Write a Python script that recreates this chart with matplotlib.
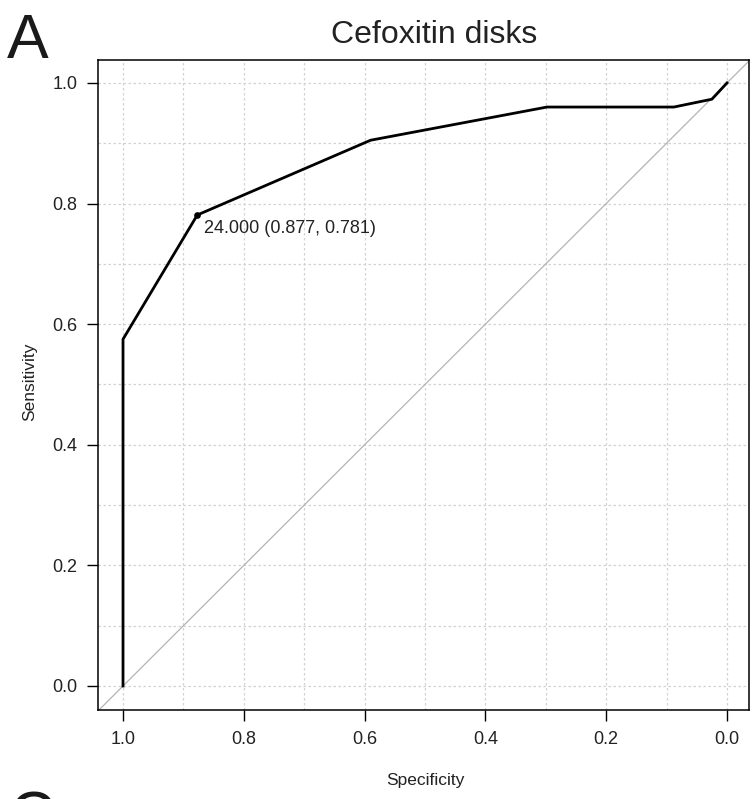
import matplotlib
matplotlib.use("Agg")
import matplotlib.pyplot as plt
import numpy as np

plt.rcParams['font.family'] = ['Liberation Sans', 'DejaVu Sans']

# ROC curve points
specificity = [1.0, 1.0, 0.877, 0.590, 0.298, 0.088, 0.025, 0.0]
sensitivity = [0.0, 0.575, 0.781, 0.905, 0.960, 0.960, 0.973, 1.0]

best_spec = 0.877
best_sens = 0.781
best_thr = 24.0

ticks = [1.0, 0.8, 0.6, 0.4, 0.2, 0.0]
grid_steps = np.arange(0, 11) / 10.0

W, H = 752, 799
fig = plt.figure(figsize=(W / 100, H / 100), dpi=100)
ax = fig.add_axes([98 / W, 1 - 710 / H, (749 - 98) / W, (710 - 60) / H])

ax.set_xlim(1.0414, -0.0364)
ax.set_ylim(-0.0398, 1.038)

# dotted grid every 0.1
for g in grid_steps:
    ax.axvline(g, color='#d2d2d2', lw=0.9, ls=(0, (2, 2)), zorder=0)
    ax.axhline(g, color='#d2d2d2', lw=0.9, ls=(0, (2, 2)), zorder=0)

# chance diagonal
ax.axline((1, 0), (0, 1), color='#b4b4b4', lw=0.9, zorder=1)

ax.plot(specificity, sensitivity, color='black', lw=2.0, zorder=3)
ax.plot([best_spec], [best_sens], 'o', color='black', ms=3.8, zorder=4)
ax.annotate('%.3f (%.3f, %.3f)' % (best_thr, best_spec, best_sens),
            xy=(best_spec, best_sens), xytext=(5, -10), textcoords='offset points',
            ha='left', va='center', fontsize=13, color='#222222')

ax.set_xticks(ticks)
ax.set_yticks(ticks)
ax.set_xticklabels(['%.1f' % t for t in ticks])
ax.set_yticklabels(['%.1f' % t for t in ticks])
ax.tick_params(direction='out', length=8, width=1, pad=7, labelsize=13,
               colors='black', labelcolor='#222222')
for s in ax.spines.values():
    s.set_linewidth(1.1)
    s.set_color('black')

fig.text(425 / W, 1 - 780 / H, 'Specificity', ha='center', va='center',
         fontsize=12.5, color='#222222')
fig.text(30 / W, 1 - 382 / H, 'Sensitivity', ha='center', va='center',
         rotation=90, fontsize=12.5, color='#222222')

fig.text(434 / W, 1 - 43 / H, 'Cefoxitin disks', ha='center', va='baseline',
         fontsize=23, color='#222222')
fig.text(7 / W, 1 - 58 / H, 'A', ha='left', va='baseline', fontsize=45,
         color='#1a1a1a')
# panel letter of the next figure, cut off by the bottom edge as in the source
fig.text(10 / W, 1 - 836 / H, 'C', ha='left', va='baseline', fontsize=45,
         color='#1a1a1a')

fig.savefig('out.png', dpi=100)
